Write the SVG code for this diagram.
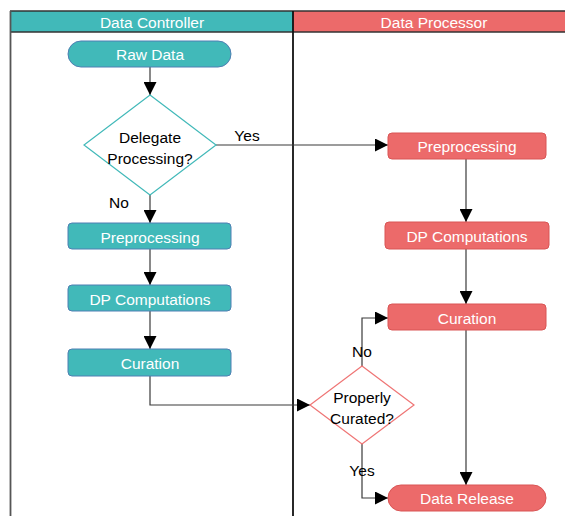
<svg xmlns="http://www.w3.org/2000/svg" width="565" height="516" viewBox="0 0 565 516">
  <style>
    text { font-family: "Liberation Sans", Arial, sans-serif; font-size: 15.5px; text-anchor: middle; dominant-baseline: central; }
    .w { fill: #ffffff; }
    .k { fill: #000000; }
    .teal { fill: #41b9b9; stroke: #4f7fb3; stroke-width: 1; }
    .red { fill: #ec6a6a; stroke: #d95555; stroke-width: 1; }
    .dteal { fill: #ffffff; stroke: #41b9b9; stroke-width: 1.2; }
    .dred { fill: #ffffff; stroke: #ef7474; stroke-width: 1.2; }
    .edge { fill: none; stroke: #3a3a3a; stroke-width: 1.2; }
  </style>
  <defs>
    <marker id="arrow" viewBox="0 0 13 13" refX="13" refY="6.5" markerWidth="13" markerHeight="13" markerUnits="userSpaceOnUse" orient="auto">
      <path d="M0,0 L13,6.5 L0,13 Z" fill="#000"/>
    </marker>
  </defs>
  <rect width="565" height="516" fill="#ffffff"/>

  <!-- swimlanes -->
  <g id="lanes">
    <rect x="10" y="11" width="283" height="21" fill="#41b9b9"/>
    <rect x="293" y="11" width="272" height="21" fill="#ec6a6a"/>
    <line x1="10" y1="11" x2="565" y2="11" stroke="#333" stroke-width="1.5"/>
    <line x1="10" y1="32" x2="565" y2="32" stroke="#333" stroke-width="1.5"/>
    <line x1="10.5" y1="11" x2="10.5" y2="516" stroke="#555" stroke-width="1.8"/>
    <line x1="293" y1="11" x2="293" y2="516" stroke="#111" stroke-width="1.8"/>
    <text class="w" x="152" y="22">Data Controller</text>
    <text class="w" x="434" y="22">Data Processor</text>
  </g>

  <!-- connectors -->
  <g id="connectors">
    <path class="edge" d="M150,67 V95" marker-end="url(#arrow)"/>
    <path class="edge" d="M216,145 H388" marker-end="url(#arrow)"/>
    <path class="edge" d="M150,195 V223" marker-end="url(#arrow)"/>
    <path class="edge" d="M150,249 V285" marker-end="url(#arrow)"/>
    <path class="edge" d="M150,311 V349" marker-end="url(#arrow)"/>
    <path class="edge" d="M150,376 V405 H310" marker-end="url(#arrow)"/>
    <path class="edge" d="M466,159 V222" marker-end="url(#arrow)"/>
    <path class="edge" d="M466,249 V304" marker-end="url(#arrow)"/>
    <path class="edge" d="M466,330 V485" marker-end="url(#arrow)"/>
    <path class="edge" d="M362,366 V318 H388" marker-end="url(#arrow)"/>
    <path class="edge" d="M362,444 V498 H388" marker-end="url(#arrow)"/>
    <text class="k" x="247" y="135">Yes</text>
    <text class="k" x="119" y="202">No</text>
    <text class="k" x="362" y="351">No</text>
    <text class="k" x="362" y="470">Yes</text>
  </g>

  <!-- data controller nodes -->
  <g id="raw-data">
    <rect class="teal" x="68" y="41" width="163" height="26" rx="13"/>
    <text class="w" x="150" y="54">Raw Data</text>
  </g>
  <g id="delegate">
    <polygon class="dteal" points="150,95 216,145 150,195 84,145"/>
    <text class="k" x="150" y="137">Delegate</text>
    <text class="k" x="150" y="158">Processing?</text>
  </g>
  <g id="dc-preprocessing">
    <rect class="teal" x="68" y="223" width="163" height="26" rx="4"/>
    <text class="w" x="150" y="237">Preprocessing</text>
  </g>
  <g id="dc-dp">
    <rect class="teal" x="68" y="285" width="163" height="26" rx="4"/>
    <text class="w" x="150" y="299">DP Computations</text>
  </g>
  <g id="dc-curation">
    <rect class="teal" x="68" y="349" width="163" height="27" rx="4"/>
    <text class="w" x="150" y="363">Curation</text>
  </g>

  <!-- data processor nodes -->
  <g id="dp-preprocessing">
    <rect class="red" x="388" y="133" width="158" height="26" rx="4"/>
    <text class="w" x="467" y="146">Preprocessing</text>
  </g>
  <g id="dp-dp">
    <rect class="red" x="385" y="222" width="164" height="27" rx="4"/>
    <text class="w" x="467" y="236">DP Computations</text>
  </g>
  <g id="dp-curation">
    <rect class="red" x="388" y="304" width="158" height="26" rx="4"/>
    <text class="w" x="467" y="318">Curation</text>
  </g>
  <g id="curated">
    <polygon class="dred" points="362,366 414,405 362,444 310,405"/>
    <text class="k" x="362" y="397">Properly</text>
    <text class="k" x="362" y="418">Curated?</text>
  </g>
  <g id="data-release">
    <rect class="red" x="388" y="485" width="158" height="26" rx="13"/>
    <text class="w" x="467" y="498">Data Release</text>
  </g>
</svg>
